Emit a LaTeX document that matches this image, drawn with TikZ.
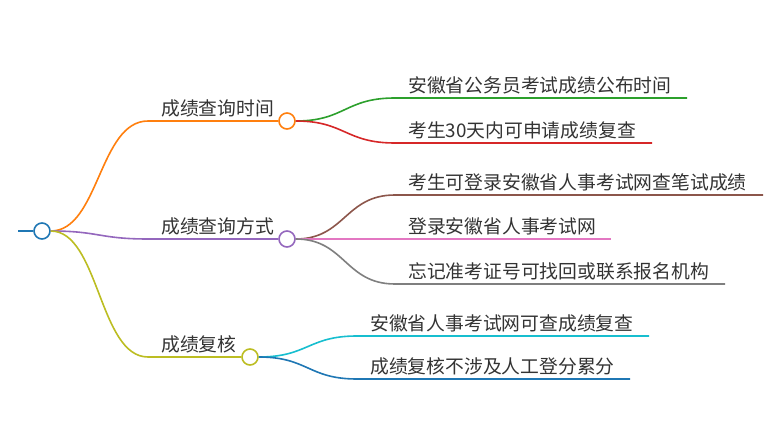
\documentclass[tikz,border=0pt]{standalone}
\usepackage{fontspec}
\setmainfont{Noto Sans CJK SC}
\definecolor{cOrange}{HTML}{FF7F0E}
\definecolor{cPurple}{HTML}{9467BD}
\definecolor{cOlive}{HTML}{BCBD22}
\definecolor{cGreen}{HTML}{2CA02C}
\definecolor{cRed}{HTML}{D62728}
\definecolor{cBrown}{HTML}{8C564B}
\definecolor{cPink}{HTML}{E377C2}
\definecolor{cGray}{HTML}{7F7F7F}
\definecolor{cCyan}{HTML}{17BECF}
\definecolor{cBlue}{HTML}{1F77B4}
\definecolor{cText}{HTML}{333333}
\tikzset{
  dot/.style={circle, draw=#1, fill=white, line width=1.6pt, minimum size=16pt, inner sep=0pt},
  link/.style={draw=#1, line width=1.6pt},
  lbl/.style={anchor=west, inner sep=0pt, text=cText, font=\fontsize{18.8}{20}\selectfont},
}
\begin{document}
\begin{tikzpicture}[x=1pt,y=-1pt]
\useasboundingbox (0,0) rectangle (780,441);
% root
\coordinate (stub) at (18,231);
\node[dot=cBlue] (root) at (42,231) {};
\draw[link=cBlue] (stub) -- (root.west);
% level 1
\node[dot=cOrange] (n1) at (287,121) {};
\node[dot=cPurple] (n2) at (287,239) {};
\node[dot=cOlive] (n3) at (250,357) {};
\coordinate (s1) at (148,121);
\coordinate (s2) at (148,239);
\coordinate (s3) at (148,357);
\draw[link=cOrange] (root.east) .. controls (99,231) and (99,121) .. (s1) -- (n1.west);
\draw[link=cPurple] (root.east) .. controls (99,231) and (99,239) .. (s2) -- (n2.west);
\draw[link=cOlive] (root.east) .. controls (99,231) and (99,357) .. (s3) -- (n3.west);
\node[lbl] (t1) at (161,108.5) {成绩查询时间};
\node[lbl] (t2) at (161,226.5) {成绩查询方式};
\node[lbl] (t3) at (161,344.5) {成绩复核};
% level 2 under n1
\coordinate (a1) at (395,98);   \coordinate (a1e) at (687,98);
\coordinate (a2) at (395,143);  \coordinate (a2e) at (652,143);
\draw[link=cGreen] (n1.east) .. controls (345,121) and (345,98) .. (a1) -- (a1e);
\draw[link=cRed] (n1.east) .. controls (345,121) and (345,143) .. (a2) -- (a2e);
\node[lbl] (ta1) at (408,85.5) {安徽省公务员考试成绩公布时间};
\node[lbl] (ta2) at (408,130.5) {考生30天内可申请成绩复查};
% level 2 under n2
\coordinate (b1) at (395,195);  \coordinate (b1e) at (763,195);
\coordinate (b2) at (395,239);  \coordinate (b2e) at (611,239);
\coordinate (b3) at (395,284);  \coordinate (b3e) at (725,284);
\draw[link=cBrown] (n2.east) .. controls (345,239) and (345,195) .. (b1) -- (b1e);
\draw[link=cPink] (n2.east) -- (b2) -- (b2e);
\draw[link=cGray] (n2.east) .. controls (345,239) and (345,284) .. (b3) -- (b3e);
\node[lbl] (tb1) at (408,182) {考生可登录安徽省人事考试网查笔试成绩};
\node[lbl] (tb2) at (408,226.5) {登录安徽省人事考试网};
\node[lbl] (tb3) at (408,271.5) {忘记准考证号可找回或联系报名机构};
% level 2 under n3
\coordinate (c1) at (357,336);  \coordinate (c1e) at (649,336);
\coordinate (c2) at (357,379);  \coordinate (c2e) at (630,379);
\draw[link=cCyan] (n3.east) .. controls (308,357) and (308,336) .. (c1) -- (c1e);
\draw[link=cBlue] (n3.east) .. controls (308,357) and (308,379) .. (c2) -- (c2e);
\node[lbl] (tc1) at (370,323) {安徽省人事考试网可查成绩复查};
\node[lbl] (tc2) at (370,366.5) {成绩复核不涉及人工登分累分};
\end{tikzpicture}
\end{document}
